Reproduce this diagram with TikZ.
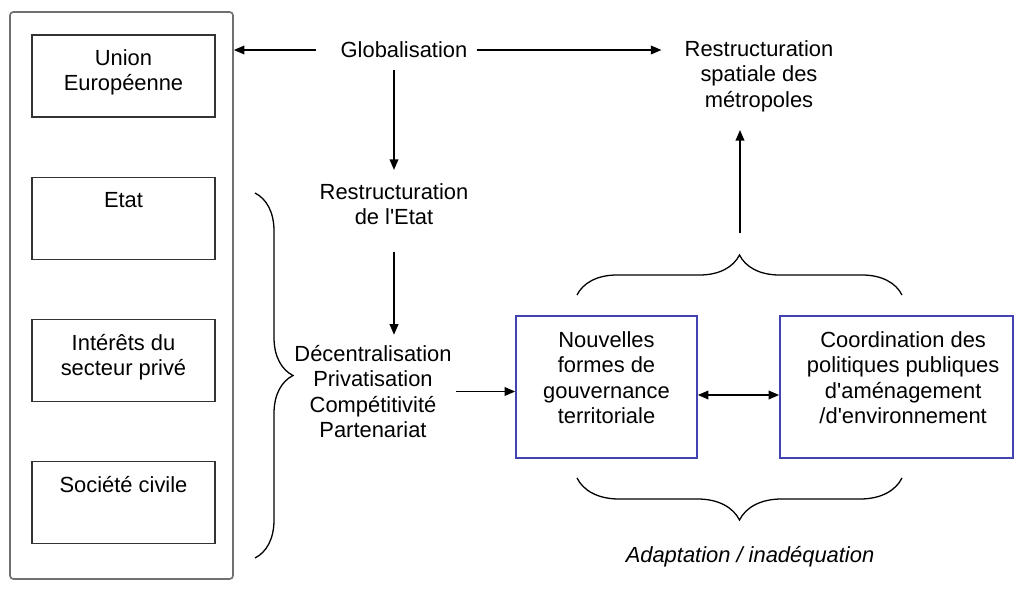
\documentclass[tikz,border=0pt]{standalone}
\usepackage{fontspec}
\setmainfont{Liberation Sans}
\usetikzlibrary{positioning,arrows.meta,decorations.pathreplacing}
\definecolor{cadregris}{RGB}{112,112,112}
\definecolor{cadrebleu}{RGB}{66,66,178}
\tikzset{
    acteur/.style = {draw=black!80, line width=1.3pt, minimum width=54.9mm, minimum height=24.6mm, inner sep=0},
    bloc/.style = {draw=cadrebleu, line width=1.4pt, minimum height=42.6mm, inner sep=0},
    titre/.style = {anchor=north, inner sep=0, align=center, yshift=-4.5mm},
    texte/.style = {inner sep=0, align=center},
    fleche/.style = {->, line width=1.4pt},
    accolade/.style = {decorate, decoration={brace, amplitude=#1}, line width=1.1pt}
}

\begin{document}
\begin{tikzpicture}[x=0.3mm, y=-0.3mm, >={Triangle[length=3.2mm,width=2.6mm]},
    font=\fontsize{18.7pt}{21.8pt}\selectfont]
    \useasboundingbox (0,0) rectangle (1019,592);

    % les acteurs
    \node[draw=cadregris, line width=1.4pt, rounded corners=1mm, minimum width=66.9mm, minimum height=170.1mm] (acteurs) at (121.5,295.5) {};
    \node[acteur, label={[titre]north:{Union\\Européenne}}] (ue) at (123.5,76) {};
    \node[acteur, label={[titre]north:Etat}] (etat) at (123.5,218.5) {};
    \node[acteur, label={[titre]north:{Intérêts du\\secteur privé}}] (prive) at (123.5,360.5) {};
    \node[acteur, label={[titre]north:Société civile}] (civile) at (123.5,502.5) {};

    % la chaine centrale
    \node[texte] (glob) at (404,50) {Globalisation};
    \node[texte] (metro) at (759,76) {Restructuration\\spatiale des\\métropoles};
    \node[texte] (restat) at (394,204) {Restructuration\\de l\textquotesingle Etat};
    \node[texte] (politiques) at (373,391.5) {Décentralisation\\Privatisation\\Compétitivité\\Partenariat};

    \node[bloc, minimum width=54.3mm, label={[titre,yshift=-0.3mm]north:{Nouvelles\\formes de\\gouvernance\\territoriale}}] (gouv) at (606.5,387) {};
    \node[bloc, minimum width=69.9mm, label={[titre,yshift=-0.3mm,xshift=2mm]north:{Coordination des\\politiques publiques\\d\textquotesingle aménagement\\/d\textquotesingle environnement}}] (coord) at (896.5,387) {};

    \draw[fleche, shorten <=7.2mm] (glob.west) -- (acteurs.east |- glob);
    \draw[fleche, shorten <=2.7mm, shorten >=6.9mm] (glob.east) -- (metro.west |- glob);
    \draw[fleche, shorten <=3.6mm, shorten >=3.9mm] (restat.north |- glob.south) -- (restat.north);
    \draw[fleche, shorten <=8mm, shorten >=3mm] (restat.south) -- (restat.south |- politiques.north);
    \draw[fleche, shorten <=1.2mm] (politiques.east) -- (politiques.east -| gouv.west);
    \draw[<->, line width=1.4pt] ([yshift=-2.4mm]gouv.east) -- ([yshift=-2.4mm]coord.west);

    % accolades
    \draw[accolade=11.4mm] (255,193) -- (255,558);
    \draw[accolade=12mm] (577,295) -- (902,295);
    \draw[accolade=12.6mm] (902,478) -- (577,478);

    \coordinate (pointe) at (740,233);
    \draw[fleche, shorten >=5.4mm] (pointe) -- (pointe |- metro.south);

    \node[texte] (adapt) at (750,557) {\itshape Adaptation / inadéquation};
\end{tikzpicture}
\end{document}
